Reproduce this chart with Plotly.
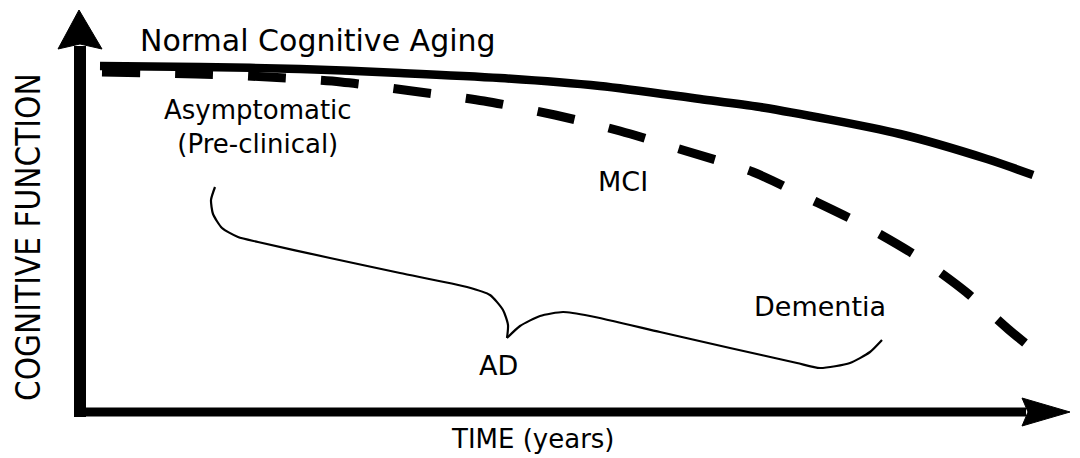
import plotly.graph_objects as go

# ---- data (x = time, y = cognitive level in picture units, y grows downward) ----
NORMAL_T = [100, 200, 300, 400, 500, 600, 700, 760, 900, 987, 1033]
NORMAL_F = [66, 67, 69, 73, 78, 86, 99, 107, 134, 159, 175]

AD_T = [102, 196, 268, 341, 412, 484, 555, 620, 686, 753, 808, 865, 918, 966, 1008, 1025]
AD_F = [72, 74, 77, 82, 91, 101, 115, 131, 151, 172, 198, 226, 257, 292, 329, 343]

BRACE_LEFT_T = [215, 211, 213, 222, 238, 258, 330, 400, 467, 490, 503, 508, 507]
BRACE_LEFT_F = [187, 200, 214, 228, 237, 242, 258, 273, 287, 295, 310, 325, 338]
BRACE_RIGHT_T = [507, 520, 540, 563, 590, 660, 730, 797, 820, 850, 870, 882]
BRACE_RIGHT_F = [338, 326, 316, 312, 316, 332, 348, 363, 368, 363, 352, 340]

STAGE_LABELS = ["Normal Cognitive Aging", "Asymptomatic<br>(Pre-clinical)", "MCI", "Dementia", "AD"]
X_TITLE = "TIME (years)"
Y_TITLE = "COGNITIVE FUNCTION"

W, H = 1080, 458
PAGE_PAD = 8                      # default page margin around the figure
AXIS_X, AXIS_Y = 80, 412          # origin of the drawn axes
Y_TIP, X_TIP = 10, 1070           # arrow tips

fig = go.Figure()

fig.add_trace(go.Scatter(x=NORMAL_T, y=NORMAL_F, mode="lines",
                         line=dict(color="black", width=8.5, shape="spline", smoothing=0.8),
                         hoverinfo="skip", showlegend=False))
fig.add_trace(go.Scatter(x=AD_T, y=AD_F, mode="lines",
                         line=dict(color="black", width=9, dash="38px,35px", shape="spline", smoothing=0.8),
                         hoverinfo="skip", showlegend=False))
for bx, by in ((BRACE_LEFT_T, BRACE_LEFT_F), (BRACE_RIGHT_T, BRACE_RIGHT_F)):
    fig.add_trace(go.Scatter(x=bx, y=by, mode="lines",
                             line=dict(color="black", width=2.2, shape="spline", smoothing=0.6),
                             hoverinfo="skip", showlegend=False))

# axes with arrowheads
shapes = [
    dict(type="line", xref="x", yref="y", x0=AXIS_X, x1=AXIS_X, y0=AXIS_Y + 5, y1=Y_TIP + 36,
         line=dict(color="black", width=12)),
    dict(type="line", xref="x", yref="y", x0=AXIS_X - 6, x1=X_TIP - 44, y0=AXIS_Y, y1=AXIS_Y,
         line=dict(color="black", width=9)),
    dict(type="path", xref="x", yref="y", fillcolor="black", line=dict(color="black", width=1),
         path=f"M {AXIS_X - 1} {Y_TIP} L {AXIS_X + 22} {Y_TIP + 39} L {AXIS_X} {Y_TIP + 34} "
              f"L {AXIS_X - 22} {Y_TIP + 39} Z"),
    dict(type="path", xref="x", yref="y", fillcolor="black", line=dict(color="black", width=1),
         path=f"M {X_TIP} {AXIS_Y} L {X_TIP - 48} {AXIS_Y + 14} L {X_TIP - 42} {AXIS_Y} "
              f"L {X_TIP - 48} {AXIS_Y - 14} Z"),
]

FONT = "DejaVu Sans, Liberation Sans, Arial, sans-serif"
label_pos = [(318, 40, 30), (258, 127, 26), (623, 181, 27), (820, 306, 27), (498, 365, 27)]
annotations = []
for text, (x, y, s) in zip(STAGE_LABELS, label_pos):
    annotations.append(dict(x=x, y=y, xref="x", yref="y", text=text, showarrow=False,
                            xanchor="center", yanchor="middle",
                            font=dict(family=FONT, size=s, color="black")))
annotations.append(dict(x=533, y=439, xref="x", yref="y", text=X_TITLE, showarrow=False,
                        xanchor="center", yanchor="middle",
                        font=dict(family=FONT, size=26, color="black")))
annotations.append(dict(x=28, y=237, xref="x", yref="y", text=Y_TITLE, showarrow=False,
                        textangle=-90, xanchor="center", yanchor="middle",
                        font=dict(family="Liberation Sans Narrow, DejaVu Sans Condensed, Liberation Sans, sans-serif",
                                  size=33, color="black")))

fig.update_layout(
    width=W - PAGE_PAD, height=H - PAGE_PAD, margin=dict(l=0, r=0, t=0, b=0),
    paper_bgcolor="white", plot_bgcolor="white",
    xaxis=dict(range=[PAGE_PAD, W], visible=False, fixedrange=True),
    yaxis=dict(range=[H, PAGE_PAD], visible=False, fixedrange=True),
    shapes=shapes, annotations=annotations, showlegend=False,
)

fig.write_html("out.html")
